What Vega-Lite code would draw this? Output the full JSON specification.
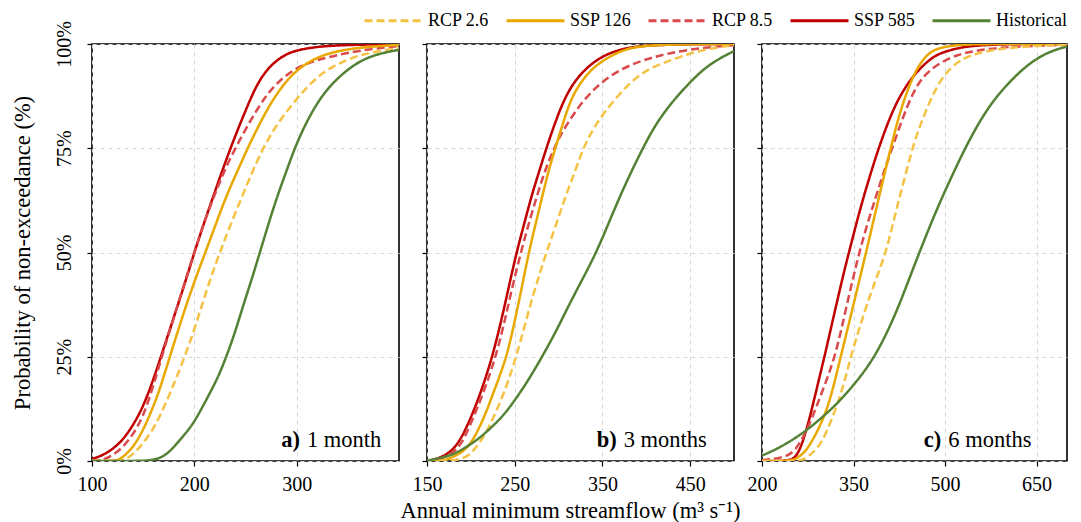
{
  "$schema": "https://vega.github.io/schema/vega-lite/v6.json",
  "background": "white",
  "padding": {"left": 10, "top": -10, "right": 5, "bottom": 2},
  "config": {
    "font": "Liberation Serif",
    "view": {"stroke": "black", "strokeWidth": 1.6},
    "axis": {
      "labelFont": "Liberation Serif", "titleFont": "Liberation Serif",
      "labelFontSize": 20, "titleFontSize": 22.5, "titleFontWeight": "normal",
      "labelColor": "black", "titleColor": "black", "labelFlush": false, "labelOverlap": false,
      "tickColor": "black", "tickSize": 5, "tickWidth": 1.2,
      "domain": false,
      "gridColor": "#d6d6d6", "gridDash": [4, 4], "gridWidth": 1
    },
    "legend": {"title": null, "orient": "none", "legendX": 271, "legendY": -54, "direction": "horizontal", "symbolType": "stroke", "symbolSize": 3364, "symbolStrokeWidth": 3, "labelFont": "Liberation Serif", "labelFontSize": 18, "labelColor": "black", "labelOffset": 4, "columnPadding": 10, "padding": 0}
  },
  "datasets": {
    "curves": [
      {"panel":"a","series":"SSP 585","x":100,"p":0.5},{"panel":"a","series":"SSP 585","x":110,"p":1.3},{"panel":"a","series":"SSP 585","x":120,"p":2.8},{"panel":"a","series":"SSP 585","x":130,"p":5},{"panel":"a","series":"SSP 585","x":140,"p":8.5},{"panel":"a","series":"SSP 585","x":150,"p":13},{"panel":"a","series":"SSP 585","x":160,"p":19.5},{"panel":"a","series":"SSP 585","x":170,"p":27},{"panel":"a","series":"SSP 585","x":180,"p":34.5},{"panel":"a","series":"SSP 585","x":190,"p":42},{"panel":"a","series":"SSP 585","x":200,"p":50},{"panel":"a","series":"SSP 585","x":210,"p":57.5},{"panel":"a","series":"SSP 585","x":220,"p":64.5},{"panel":"a","series":"SSP 585","x":230,"p":71.5},{"panel":"a","series":"SSP 585","x":240,"p":78},{"panel":"a","series":"SSP 585","x":250,"p":84},{"panel":"a","series":"SSP 585","x":260,"p":89.8},{"panel":"a","series":"SSP 585","x":270,"p":93.6},{"panel":"a","series":"SSP 585","x":280,"p":96},{"panel":"a","series":"SSP 585","x":290,"p":97.6},{"panel":"a","series":"SSP 585","x":300,"p":98.5},{"panel":"a","series":"SSP 585","x":320,"p":99.4},{"panel":"a","series":"SSP 585","x":350,"p":99.8},{"panel":"a","series":"SSP 585","x":400,"p":100},
      {"panel":"a","series":"RCP 8.5","x":100,"p":0},{"panel":"a","series":"RCP 8.5","x":110,"p":0.2},{"panel":"a","series":"RCP 8.5","x":120,"p":1.3},{"panel":"a","series":"RCP 8.5","x":130,"p":3.2},{"panel":"a","series":"RCP 8.5","x":140,"p":6.3},{"panel":"a","series":"RCP 8.5","x":150,"p":10.6},{"panel":"a","series":"RCP 8.5","x":160,"p":18},{"panel":"a","series":"RCP 8.5","x":170,"p":26.5},{"panel":"a","series":"RCP 8.5","x":180,"p":34.5},{"panel":"a","series":"RCP 8.5","x":190,"p":42.3},{"panel":"a","series":"RCP 8.5","x":200,"p":50.2},{"panel":"a","series":"RCP 8.5","x":210,"p":57.5},{"panel":"a","series":"RCP 8.5","x":220,"p":64},{"panel":"a","series":"RCP 8.5","x":230,"p":70},{"panel":"a","series":"RCP 8.5","x":240,"p":75},{"panel":"a","series":"RCP 8.5","x":250,"p":79.5},{"panel":"a","series":"RCP 8.5","x":260,"p":83.8},{"panel":"a","series":"RCP 8.5","x":270,"p":87.5},{"panel":"a","series":"RCP 8.5","x":280,"p":90.5},{"panel":"a","series":"RCP 8.5","x":297,"p":94},{"panel":"a","series":"RCP 8.5","x":315,"p":95.8},{"panel":"a","series":"RCP 8.5","x":330,"p":96.8},{"panel":"a","series":"RCP 8.5","x":350,"p":97.9},{"panel":"a","series":"RCP 8.5","x":375,"p":98.9},{"panel":"a","series":"RCP 8.5","x":400,"p":99.5},
      {"panel":"a","series":"SSP 126","x":100,"p":0},{"panel":"a","series":"SSP 126","x":122,"p":0},{"panel":"a","series":"SSP 126","x":128,"p":0.5},{"panel":"a","series":"SSP 126","x":135,"p":2},{"panel":"a","series":"SSP 126","x":142,"p":4},{"panel":"a","series":"SSP 126","x":150,"p":7.4},{"panel":"a","series":"SSP 126","x":160,"p":13},{"panel":"a","series":"SSP 126","x":168,"p":18.5},{"panel":"a","series":"SSP 126","x":176,"p":25},{"panel":"a","series":"SSP 126","x":185,"p":32},{"panel":"a","series":"SSP 126","x":194,"p":38.8},{"panel":"a","series":"SSP 126","x":203,"p":45},{"panel":"a","series":"SSP 126","x":212,"p":50.8},{"panel":"a","series":"SSP 126","x":222,"p":57.5},{"panel":"a","series":"SSP 126","x":232,"p":64},{"panel":"a","series":"SSP 126","x":243,"p":70},{"panel":"a","series":"SSP 126","x":253,"p":75.5},{"panel":"a","series":"SSP 126","x":265,"p":81.5},{"panel":"a","series":"SSP 126","x":277,"p":86.8},{"panel":"a","series":"SSP 126","x":288,"p":90.5},{"panel":"a","series":"SSP 126","x":297,"p":93},{"panel":"a","series":"SSP 126","x":310,"p":95.5},{"panel":"a","series":"SSP 126","x":329,"p":97.8},{"panel":"a","series":"SSP 126","x":360,"p":99.2},{"panel":"a","series":"SSP 126","x":400,"p":99.8},
      {"panel":"a","series":"RCP 2.6","x":100,"p":0},{"panel":"a","series":"RCP 2.6","x":128,"p":0},{"panel":"a","series":"RCP 2.6","x":133,"p":0.4},{"panel":"a","series":"RCP 2.6","x":140,"p":1.6},{"panel":"a","series":"RCP 2.6","x":150,"p":4.2},{"panel":"a","series":"RCP 2.6","x":158,"p":7},{"panel":"a","series":"RCP 2.6","x":166,"p":10.5},{"panel":"a","series":"RCP 2.6","x":175,"p":15.5},{"panel":"a","series":"RCP 2.6","x":183,"p":20.3},{"panel":"a","series":"RCP 2.6","x":191,"p":25.3},{"panel":"a","series":"RCP 2.6","x":200,"p":31.5},{"panel":"a","series":"RCP 2.6","x":208,"p":37.8},{"panel":"a","series":"RCP 2.6","x":216,"p":44},{"panel":"a","series":"RCP 2.6","x":225,"p":50},{"panel":"a","series":"RCP 2.6","x":235,"p":56.5},{"panel":"a","series":"RCP 2.6","x":246,"p":63},{"panel":"a","series":"RCP 2.6","x":256,"p":69},{"panel":"a","series":"RCP 2.6","x":267,"p":75},{"panel":"a","series":"RCP 2.6","x":280,"p":80.5},{"panel":"a","series":"RCP 2.6","x":297,"p":86},{"panel":"a","series":"RCP 2.6","x":313,"p":90.5},{"panel":"a","series":"RCP 2.6","x":329,"p":93.8},{"panel":"a","series":"RCP 2.6","x":345,"p":95.8},{"panel":"a","series":"RCP 2.6","x":362,"p":97.4},{"panel":"a","series":"RCP 2.6","x":380,"p":98.3},{"panel":"a","series":"RCP 2.6","x":400,"p":99},
      {"panel":"a","series":"Historical","x":100,"p":0},{"panel":"a","series":"Historical","x":150,"p":0},{"panel":"a","series":"Historical","x":157,"p":0.2},{"panel":"a","series":"Historical","x":166,"p":0.6},{"panel":"a","series":"Historical","x":175,"p":2},{"panel":"a","series":"Historical","x":183,"p":4.2},{"panel":"a","series":"Historical","x":191,"p":6.5},{"panel":"a","series":"Historical","x":199,"p":9},{"panel":"a","series":"Historical","x":207,"p":12.5},{"panel":"a","series":"Historical","x":215,"p":16.2},{"panel":"a","series":"Historical","x":224,"p":20.5},{"panel":"a","series":"Historical","x":232,"p":25.5},{"panel":"a","series":"Historical","x":240,"p":31},{"panel":"a","series":"Historical","x":248,"p":37.5},{"panel":"a","series":"Historical","x":256,"p":43.5},{"panel":"a","series":"Historical","x":264,"p":50},{"panel":"a","series":"Historical","x":272,"p":56.5},{"panel":"a","series":"Historical","x":281,"p":63.5},{"panel":"a","series":"Historical","x":290,"p":69.5},{"panel":"a","series":"Historical","x":298,"p":75},{"panel":"a","series":"Historical","x":308,"p":80.5},{"panel":"a","series":"Historical","x":318,"p":85},{"panel":"a","series":"Historical","x":329,"p":89},{"panel":"a","series":"Historical","x":345,"p":93},{"panel":"a","series":"Historical","x":362,"p":96},{"panel":"a","series":"Historical","x":380,"p":97.7},{"panel":"a","series":"Historical","x":400,"p":98.6},

      {"panel":"b","series":"SSP 585","x":150,"p":0},{"panel":"b","series":"SSP 585","x":160,"p":0.4},{"panel":"b","series":"SSP 585","x":170,"p":1.3},{"panel":"b","series":"SSP 585","x":179,"p":2.6},{"panel":"b","series":"SSP 585","x":188,"p":5},{"panel":"b","series":"SSP 585","x":198,"p":9.4},{"panel":"b","series":"SSP 585","x":207,"p":14},{"panel":"b","series":"SSP 585","x":217,"p":20},{"panel":"b","series":"SSP 585","x":225,"p":25.5},{"panel":"b","series":"SSP 585","x":234,"p":33},{"panel":"b","series":"SSP 585","x":243,"p":41.5},{"panel":"b","series":"SSP 585","x":252,"p":50},{"panel":"b","series":"SSP 585","x":261,"p":57},{"panel":"b","series":"SSP 585","x":269,"p":63.5},{"panel":"b","series":"SSP 585","x":278,"p":69.5},{"panel":"b","series":"SSP 585","x":286,"p":75},{"panel":"b","series":"SSP 585","x":295,"p":80.5},{"panel":"b","series":"SSP 585","x":303,"p":85},{"panel":"b","series":"SSP 585","x":312,"p":89},{"panel":"b","series":"SSP 585","x":323,"p":92.3},{"panel":"b","series":"SSP 585","x":335,"p":94.8},{"panel":"b","series":"SSP 585","x":346,"p":96.5},{"panel":"b","series":"SSP 585","x":358,"p":97.8},{"panel":"b","series":"SSP 585","x":373,"p":98.8},{"panel":"b","series":"SSP 585","x":388,"p":99.4},{"panel":"b","series":"SSP 585","x":420,"p":99.9},{"panel":"b","series":"SSP 585","x":500,"p":100},
      {"panel":"b","series":"RCP 8.5","x":150,"p":0},{"panel":"b","series":"RCP 8.5","x":160,"p":0.3},{"panel":"b","series":"RCP 8.5","x":170,"p":0.9},{"panel":"b","series":"RCP 8.5","x":179,"p":1.8},{"panel":"b","series":"RCP 8.5","x":189,"p":4},{"panel":"b","series":"RCP 8.5","x":198,"p":8},{"panel":"b","series":"RCP 8.5","x":207,"p":12.5},{"panel":"b","series":"RCP 8.5","x":218,"p":18.5},{"panel":"b","series":"RCP 8.5","x":229,"p":25.5},{"panel":"b","series":"RCP 8.5","x":238,"p":33},{"panel":"b","series":"RCP 8.5","x":247,"p":41.5},{"panel":"b","series":"RCP 8.5","x":257,"p":50},{"panel":"b","series":"RCP 8.5","x":266,"p":57},{"panel":"b","series":"RCP 8.5","x":276,"p":64},{"panel":"b","series":"RCP 8.5","x":285,"p":70},{"panel":"b","series":"RCP 8.5","x":295,"p":75},{"panel":"b","series":"RCP 8.5","x":303,"p":78.5},{"panel":"b","series":"RCP 8.5","x":312,"p":81.5},{"panel":"b","series":"RCP 8.5","x":323,"p":85},{"panel":"b","series":"RCP 8.5","x":335,"p":88},{"panel":"b","series":"RCP 8.5","x":350,"p":91},{"panel":"b","series":"RCP 8.5","x":369,"p":93.7},{"panel":"b","series":"RCP 8.5","x":388,"p":95.5},{"panel":"b","series":"RCP 8.5","x":407,"p":96.8},{"panel":"b","series":"RCP 8.5","x":427,"p":97.8},{"panel":"b","series":"RCP 8.5","x":450,"p":98.7},{"panel":"b","series":"RCP 8.5","x":475,"p":99.3},{"panel":"b","series":"RCP 8.5","x":500,"p":99.7},
      {"panel":"b","series":"SSP 126","x":150,"p":0},{"panel":"b","series":"SSP 126","x":165,"p":0},{"panel":"b","series":"SSP 126","x":172,"p":0.3},{"panel":"b","series":"SSP 126","x":180,"p":1},{"panel":"b","series":"SSP 126","x":189,"p":2},{"panel":"b","series":"SSP 126","x":198,"p":3.6},{"panel":"b","series":"SSP 126","x":207,"p":6.8},{"panel":"b","series":"SSP 126","x":217,"p":11.4},{"panel":"b","series":"SSP 126","x":225,"p":16},{"panel":"b","series":"SSP 126","x":234,"p":21},{"panel":"b","series":"SSP 126","x":242,"p":26},{"panel":"b","series":"SSP 126","x":250,"p":33.5},{"panel":"b","series":"SSP 126","x":258,"p":41.5},{"panel":"b","series":"SSP 126","x":266,"p":50},{"panel":"b","series":"SSP 126","x":274,"p":57},{"panel":"b","series":"SSP 126","x":282,"p":64},{"panel":"b","series":"SSP 126","x":289,"p":70},{"panel":"b","series":"SSP 126","x":297,"p":75.5},{"panel":"b","series":"SSP 126","x":305,"p":81},{"panel":"b","series":"SSP 126","x":312,"p":85.5},{"panel":"b","series":"SSP 126","x":320,"p":89.2},{"panel":"b","series":"SSP 126","x":335,"p":93.5},{"panel":"b","series":"SSP 126","x":350,"p":96},{"panel":"b","series":"SSP 126","x":369,"p":98.2},{"panel":"b","series":"SSP 126","x":388,"p":99.4},{"panel":"b","series":"SSP 126","x":420,"p":99.9},{"panel":"b","series":"SSP 126","x":500,"p":100},
      {"panel":"b","series":"RCP 2.6","x":150,"p":0},{"panel":"b","series":"RCP 2.6","x":175,"p":0},{"panel":"b","series":"RCP 2.6","x":182,"p":0.2},{"panel":"b","series":"RCP 2.6","x":190,"p":0.6},{"panel":"b","series":"RCP 2.6","x":198,"p":1.3},{"panel":"b","series":"RCP 2.6","x":207,"p":3.5},{"panel":"b","series":"RCP 2.6","x":217,"p":6.6},{"panel":"b","series":"RCP 2.6","x":226,"p":10.5},{"panel":"b","series":"RCP 2.6","x":236,"p":15.4},{"panel":"b","series":"RCP 2.6","x":244,"p":20},{"panel":"b","series":"RCP 2.6","x":252,"p":25.3},{"panel":"b","series":"RCP 2.6","x":261,"p":32},{"panel":"b","series":"RCP 2.6","x":269,"p":38.5},{"panel":"b","series":"RCP 2.6","x":278,"p":44.5},{"panel":"b","series":"RCP 2.6","x":286,"p":50},{"panel":"b","series":"RCP 2.6","x":297,"p":56.5},{"panel":"b","series":"RCP 2.6","x":307,"p":63},{"panel":"b","series":"RCP 2.6","x":318,"p":69},{"panel":"b","series":"RCP 2.6","x":328,"p":75},{"panel":"b","series":"RCP 2.6","x":339,"p":79.5},{"panel":"b","series":"RCP 2.6","x":350,"p":83},{"panel":"b","series":"RCP 2.6","x":369,"p":88},{"panel":"b","series":"RCP 2.6","x":388,"p":92},{"panel":"b","series":"RCP 2.6","x":407,"p":94.5},{"panel":"b","series":"RCP 2.6","x":427,"p":96},{"panel":"b","series":"RCP 2.6","x":446,"p":97.5},{"panel":"b","series":"RCP 2.6","x":465,"p":98.6},{"panel":"b","series":"RCP 2.6","x":485,"p":99.3},{"panel":"b","series":"RCP 2.6","x":500,"p":99.7},
      {"panel":"b","series":"Historical","x":150,"p":0.1},{"panel":"b","series":"Historical","x":160,"p":0.5},{"panel":"b","series":"Historical","x":170,"p":1},{"panel":"b","series":"Historical","x":179,"p":1.5},{"panel":"b","series":"Historical","x":188,"p":2.5},{"panel":"b","series":"Historical","x":198,"p":3.8},{"panel":"b","series":"Historical","x":210,"p":5.5},{"panel":"b","series":"Historical","x":222,"p":7.8},{"panel":"b","series":"Historical","x":236,"p":10.6},{"panel":"b","series":"Historical","x":250,"p":14.5},{"panel":"b","series":"Historical","x":266,"p":19.5},{"panel":"b","series":"Historical","x":282,"p":25.3},{"panel":"b","series":"Historical","x":297,"p":31},{"panel":"b","series":"Historical","x":312,"p":37.5},{"panel":"b","series":"Historical","x":327,"p":43.5},{"panel":"b","series":"Historical","x":343,"p":50},{"panel":"b","series":"Historical","x":356,"p":56.5},{"panel":"b","series":"Historical","x":369,"p":63},{"panel":"b","series":"Historical","x":382,"p":69},{"panel":"b","series":"Historical","x":396,"p":75},{"panel":"b","series":"Historical","x":410,"p":80.5},{"panel":"b","series":"Historical","x":427,"p":85.5},{"panel":"b","series":"Historical","x":446,"p":90},{"panel":"b","series":"Historical","x":465,"p":94},{"panel":"b","series":"Historical","x":483,"p":96.5},{"panel":"b","series":"Historical","x":500,"p":98.3},

      {"panel":"c","series":"SSP 585","x":200,"p":0},{"panel":"c","series":"SSP 585","x":247,"p":0},{"panel":"c","series":"SSP 585","x":255,"p":1},{"panel":"c","series":"SSP 585","x":263,"p":3},{"panel":"c","series":"SSP 585","x":272,"p":7},{"panel":"c","series":"SSP 585","x":281,"p":12},{"panel":"c","series":"SSP 585","x":290,"p":17.5},{"panel":"c","series":"SSP 585","x":299,"p":23},{"panel":"c","series":"SSP 585","x":304,"p":26},{"panel":"c","series":"SSP 585","x":314,"p":32.5},{"panel":"c","series":"SSP 585","x":324,"p":38.8},{"panel":"c","series":"SSP 585","x":333,"p":44.5},{"panel":"c","series":"SSP 585","x":343,"p":50.3},{"panel":"c","series":"SSP 585","x":353,"p":56},{"panel":"c","series":"SSP 585","x":363,"p":61.5},{"panel":"c","series":"SSP 585","x":372,"p":66},{"panel":"c","series":"SSP 585","x":382,"p":70.8},{"panel":"c","series":"SSP 585","x":392,"p":75.3},{"panel":"c","series":"SSP 585","x":403,"p":79.8},{"panel":"c","series":"SSP 585","x":414,"p":83.8},{"panel":"c","series":"SSP 585","x":425,"p":87.2},{"panel":"c","series":"SSP 585","x":441,"p":91},{"panel":"c","series":"SSP 585","x":458,"p":94},{"panel":"c","series":"SSP 585","x":475,"p":96.3},{"panel":"c","series":"SSP 585","x":491,"p":97.8},{"panel":"c","series":"SSP 585","x":520,"p":99},{"panel":"c","series":"SSP 585","x":545,"p":99.6},{"panel":"c","series":"SSP 585","x":600,"p":100},{"panel":"c","series":"SSP 585","x":700,"p":100},
      {"panel":"c","series":"RCP 8.5","x":200,"p":0.2},{"panel":"c","series":"RCP 8.5","x":220,"p":0.5},{"panel":"c","series":"RCP 8.5","x":235,"p":1},{"panel":"c","series":"RCP 8.5","x":245,"p":1.5},{"panel":"c","series":"RCP 8.5","x":255,"p":2.8},{"panel":"c","series":"RCP 8.5","x":263,"p":4.6},{"panel":"c","series":"RCP 8.5","x":272,"p":7},{"panel":"c","series":"RCP 8.5","x":281,"p":10},{"panel":"c","series":"RCP 8.5","x":290,"p":13.3},{"panel":"c","series":"RCP 8.5","x":299,"p":16.8},{"panel":"c","series":"RCP 8.5","x":310,"p":21},{"panel":"c","series":"RCP 8.5","x":321,"p":26},{"panel":"c","series":"RCP 8.5","x":330,"p":31.5},{"panel":"c","series":"RCP 8.5","x":340,"p":38},{"panel":"c","series":"RCP 8.5","x":350,"p":44.3},{"panel":"c","series":"RCP 8.5","x":360,"p":50.3},{"panel":"c","series":"RCP 8.5","x":373,"p":57},{"panel":"c","series":"RCP 8.5","x":387,"p":63.5},{"panel":"c","series":"RCP 8.5","x":400,"p":69.5},{"panel":"c","series":"RCP 8.5","x":414,"p":75.3},{"panel":"c","series":"RCP 8.5","x":430,"p":82},{"panel":"c","series":"RCP 8.5","x":447,"p":88.3},{"panel":"c","series":"RCP 8.5","x":465,"p":92.5},{"panel":"c","series":"RCP 8.5","x":491,"p":95.5},{"panel":"c","series":"RCP 8.5","x":520,"p":97.4},{"panel":"c","series":"RCP 8.5","x":545,"p":98.3},{"panel":"c","series":"RCP 8.5","x":600,"p":99.4},{"panel":"c","series":"RCP 8.5","x":700,"p":99.8},
      {"panel":"c","series":"SSP 126","x":200,"p":0},{"panel":"c","series":"SSP 126","x":248,"p":0},{"panel":"c","series":"SSP 126","x":255,"p":0.5},{"panel":"c","series":"SSP 126","x":263,"p":1.3},{"panel":"c","series":"SSP 126","x":272,"p":2.4},{"panel":"c","series":"SSP 126","x":285,"p":5.5},{"panel":"c","series":"SSP 126","x":299,"p":9.6},{"panel":"c","series":"SSP 126","x":310,"p":14},{"panel":"c","series":"SSP 126","x":320,"p":19.5},{"panel":"c","series":"SSP 126","x":329.5,"p":25.3},{"panel":"c","series":"SSP 126","x":340,"p":31.5},{"panel":"c","series":"SSP 126","x":350,"p":37.5},{"panel":"c","series":"SSP 126","x":360,"p":43.6},{"panel":"c","series":"SSP 126","x":370.5,"p":50},{"panel":"c","series":"SSP 126","x":381,"p":56.5},{"panel":"c","series":"SSP 126","x":391,"p":62.8},{"panel":"c","series":"SSP 126","x":401,"p":69},{"panel":"c","series":"SSP 126","x":411.5,"p":75.3},{"panel":"c","series":"SSP 126","x":423,"p":82},{"panel":"c","series":"SSP 126","x":436,"p":88},{"panel":"c","series":"SSP 126","x":450,"p":93},{"panel":"c","series":"SSP 126","x":463,"p":96.2},{"panel":"c","series":"SSP 126","x":477,"p":98.2},{"panel":"c","series":"SSP 126","x":491,"p":99.1},{"panel":"c","series":"SSP 126","x":520,"p":99.8},{"panel":"c","series":"SSP 126","x":550,"p":100},{"panel":"c","series":"SSP 126","x":700,"p":100},
      {"panel":"c","series":"RCP 2.6","x":200,"p":0},{"panel":"c","series":"RCP 2.6","x":262,"p":0},{"panel":"c","series":"RCP 2.6","x":270,"p":0.5},{"panel":"c","series":"RCP 2.6","x":284,"p":2},{"panel":"c","series":"RCP 2.6","x":299,"p":4.6},{"panel":"c","series":"RCP 2.6","x":313,"p":9.5},{"panel":"c","series":"RCP 2.6","x":327,"p":15},{"panel":"c","series":"RCP 2.6","x":337,"p":20},{"panel":"c","series":"RCP 2.6","x":346,"p":25.3},{"panel":"c","series":"RCP 2.6","x":360,"p":32},{"panel":"c","series":"RCP 2.6","x":374,"p":38.5},{"panel":"c","series":"RCP 2.6","x":388,"p":44},{"panel":"c","series":"RCP 2.6","x":403,"p":50},{"panel":"c","series":"RCP 2.6","x":414,"p":56.5},{"panel":"c","series":"RCP 2.6","x":425,"p":63},{"panel":"c","series":"RCP 2.6","x":436,"p":69},{"panel":"c","series":"RCP 2.6","x":447,"p":75.3},{"panel":"c","series":"RCP 2.6","x":460,"p":80.8},{"panel":"c","series":"RCP 2.6","x":475,"p":86.3},{"panel":"c","series":"RCP 2.6","x":491,"p":91},{"panel":"c","series":"RCP 2.6","x":510,"p":94.5},{"panel":"c","series":"RCP 2.6","x":530,"p":96.5},{"panel":"c","series":"RCP 2.6","x":545,"p":97.4},{"panel":"c","series":"RCP 2.6","x":570,"p":98.4},{"panel":"c","series":"RCP 2.6","x":600,"p":99},{"panel":"c","series":"RCP 2.6","x":650,"p":99.6},{"panel":"c","series":"RCP 2.6","x":700,"p":99.8},
      {"panel":"c","series":"Historical","x":200,"p":1.3},{"panel":"c","series":"Historical","x":222,"p":2.7},{"panel":"c","series":"Historical","x":245,"p":4.6},{"panel":"c","series":"Historical","x":272,"p":7.2},{"panel":"c","series":"Historical","x":299,"p":10.5},{"panel":"c","series":"Historical","x":325,"p":14},{"panel":"c","series":"Historical","x":349,"p":18},{"panel":"c","series":"Historical","x":368,"p":21.5},{"panel":"c","series":"Historical","x":387,"p":25.7},{"panel":"c","series":"Historical","x":405,"p":30.8},{"panel":"c","series":"Historical","x":423,"p":36.7},{"panel":"c","series":"Historical","x":440,"p":43.2},{"panel":"c","series":"Historical","x":458,"p":50},{"panel":"c","series":"Historical","x":477,"p":57},{"panel":"c","series":"Historical","x":496,"p":63.5},{"panel":"c","series":"Historical","x":515,"p":69.5},{"panel":"c","series":"Historical","x":534,"p":75.3},{"panel":"c","series":"Historical","x":555,"p":81},{"panel":"c","series":"Historical","x":577,"p":86},{"panel":"c","series":"Historical","x":600,"p":90},{"panel":"c","series":"Historical","x":627,"p":94},{"panel":"c","series":"Historical","x":655,"p":97},{"panel":"c","series":"Historical","x":680,"p":98.6},{"panel":"c","series":"Historical","x":700,"p":99.4}
    ],
    "labels": [
      {"panel":"a","x":310,"p":3.3,"tag":"a)","desc":"1 month"},
      {"panel":"b","x":374.3,"p":3.4,"tag":"b)","desc":"3 months"},
      {"panel":"c","x":505.4,"p":3.3,"tag":"c)","desc":"6 months"}
    ]
  },
  "hconcat": [
    {
      "width": 307, "height": 417,
      "layer": [
        {
          "data": {"name": "curves"},
          "transform": [{"filter": "datum.panel == 'a'"}],
          "mark": {"type": "line", "strokeWidth": 2.5, "interpolate": "basis", "clip": true},
          "encoding": {
            "x": {"field": "x", "type": "quantitative", "scale": {"domain": [100, 400], "nice": false, "zero": false},
                  "axis": {"values": [100, 200, 300], "title": null, "labelPadding": 8, "grid": true}},
            "y": {"field": "p", "type": "quantitative", "scale": {"domain": [0, 100], "nice": false},
                  "axis": {"values": [0, 25, 50, 75, 100], "labelExpr": "datum.value + '%'", "labelAngle": -90, "labelAlign": "center", "labelBaseline": "alphabetic", "labelPadding": 17, "title": "Probability of non-exceedance (%)", "titlePadding": 20, "grid": true}},
            "color": {"field": "series", "type": "nominal",
                      "scale": {"domain": ["RCP 2.6", "SSP 126", "RCP 8.5", "SSP 585", "Historical"], "range": ["#F4C244", "#E9A800", "#D94A4D", "#C00000", "#548235"]}},
            "strokeDash": {"field": "series", "type": "nominal",
                      "scale": {"domain": ["RCP 2.6", "SSP 126", "RCP 8.5", "SSP 585", "Historical"], "range": [[8, 4], [1, 0], [8, 4], [1, 0], [1, 0]]}}
          }
        },
        {
          "data": {"name": "labels"},
          "transform": [{"filter": "datum.panel == 'a'"}],
          "mark": {"type": "text", "align": "right", "baseline": "alphabetic", "dx": -7, "fontWeight": "bold", "fontSize": 22.5, "font": "Liberation Serif", "color": "black"},
          "encoding": {"x": {"field": "x", "type": "quantitative"}, "y": {"field": "p", "type": "quantitative"}, "text": {"field": "tag"}}
        },
        {
          "data": {"name": "labels"},
          "transform": [{"filter": "datum.panel == 'a'"}],
          "mark": {"type": "text", "align": "left", "baseline": "alphabetic", "fontSize": 22.5, "font": "Liberation Serif", "color": "black"},
          "encoding": {"x": {"field": "x", "type": "quantitative"}, "y": {"field": "p", "type": "quantitative"}, "text": {"field": "desc"}}
        }
      ]
    },
    {
      "width": 307, "height": 417,
      "layer": [
        {
          "data": {"name": "curves"},
          "transform": [{"filter": "datum.panel == 'b'"}],
          "mark": {"type": "line", "strokeWidth": 2.5, "interpolate": "basis", "clip": true},
          "encoding": {
            "x": {"field": "x", "type": "quantitative", "scale": {"domain": [150, 500], "nice": false, "zero": false},
                  "axis": {"values": [150, 250, 350, 450], "title": "Annual minimum streamflow (m³ s⁻¹)", "titleX": 143, "titlePadding": 5, "labelPadding": 8, "grid": true}},
            "y": {"field": "p", "type": "quantitative", "scale": {"domain": [0, 100], "nice": false},
                  "axis": {"values": [0, 25, 50, 75, 100], "labels": false, "title": null, "grid": true}},
            "color": {"field": "series", "type": "nominal",
                      "scale": {"domain": ["RCP 2.6", "SSP 126", "RCP 8.5", "SSP 585", "Historical"], "range": ["#F4C244", "#E9A800", "#D94A4D", "#C00000", "#548235"]}},
            "strokeDash": {"field": "series", "type": "nominal",
                      "scale": {"domain": ["RCP 2.6", "SSP 126", "RCP 8.5", "SSP 585", "Historical"], "range": [[8, 4], [1, 0], [8, 4], [1, 0], [1, 0]]}}
          }
        },
        {
          "data": {"name": "labels"},
          "transform": [{"filter": "datum.panel == 'b'"}],
          "mark": {"type": "text", "align": "right", "baseline": "alphabetic", "dx": -7, "fontWeight": "bold", "fontSize": 22.5, "font": "Liberation Serif", "color": "black"},
          "encoding": {"x": {"field": "x", "type": "quantitative"}, "y": {"field": "p", "type": "quantitative"}, "text": {"field": "tag"}}
        },
        {
          "data": {"name": "labels"},
          "transform": [{"filter": "datum.panel == 'b'"}],
          "mark": {"type": "text", "align": "left", "baseline": "alphabetic", "fontSize": 22.5, "font": "Liberation Serif", "color": "black"},
          "encoding": {"x": {"field": "x", "type": "quantitative"}, "y": {"field": "p", "type": "quantitative"}, "text": {"field": "desc"}}
        }
      ]
    },
    {
      "width": 305, "height": 417,
      "layer": [
        {
          "data": {"name": "curves"},
          "transform": [{"filter": "datum.panel == 'c'"}],
          "mark": {"type": "line", "strokeWidth": 2.5, "interpolate": "basis", "clip": true},
          "encoding": {
            "x": {"field": "x", "type": "quantitative", "scale": {"domain": [200, 700], "nice": false, "zero": false},
                  "axis": {"values": [200, 350, 500, 650], "title": null, "labelPadding": 8, "grid": true}},
            "y": {"field": "p", "type": "quantitative", "scale": {"domain": [0, 100], "nice": false},
                  "axis": {"values": [0, 25, 50, 75, 100], "labels": false, "title": null, "grid": true}},
            "color": {"field": "series", "type": "nominal",
                      "scale": {"domain": ["RCP 2.6", "SSP 126", "RCP 8.5", "SSP 585", "Historical"], "range": ["#F4C244", "#E9A800", "#D94A4D", "#C00000", "#548235"]}},
            "strokeDash": {"field": "series", "type": "nominal",
                      "scale": {"domain": ["RCP 2.6", "SSP 126", "RCP 8.5", "SSP 585", "Historical"], "range": [[8, 4], [1, 0], [8, 4], [1, 0], [1, 0]]}}
          }
        },
        {
          "data": {"name": "labels"},
          "transform": [{"filter": "datum.panel == 'c'"}],
          "mark": {"type": "text", "align": "right", "baseline": "alphabetic", "dx": -7, "fontWeight": "bold", "fontSize": 22.5, "font": "Liberation Serif", "color": "black"},
          "encoding": {"x": {"field": "x", "type": "quantitative"}, "y": {"field": "p", "type": "quantitative"}, "text": {"field": "tag"}}
        },
        {
          "data": {"name": "labels"},
          "transform": [{"filter": "datum.panel == 'c'"}],
          "mark": {"type": "text", "align": "left", "baseline": "alphabetic", "fontSize": 22.5, "font": "Liberation Serif", "color": "black"},
          "encoding": {"x": {"field": "x", "type": "quantitative"}, "y": {"field": "p", "type": "quantitative"}, "text": {"field": "desc"}}
        }
      ]
    }
  ],
  "spacing": 28,
  "bounds": "flush",
  "resolve": {"scale": {"x": "independent", "y": "independent", "color": "shared", "strokeDash": "shared"}}
}
